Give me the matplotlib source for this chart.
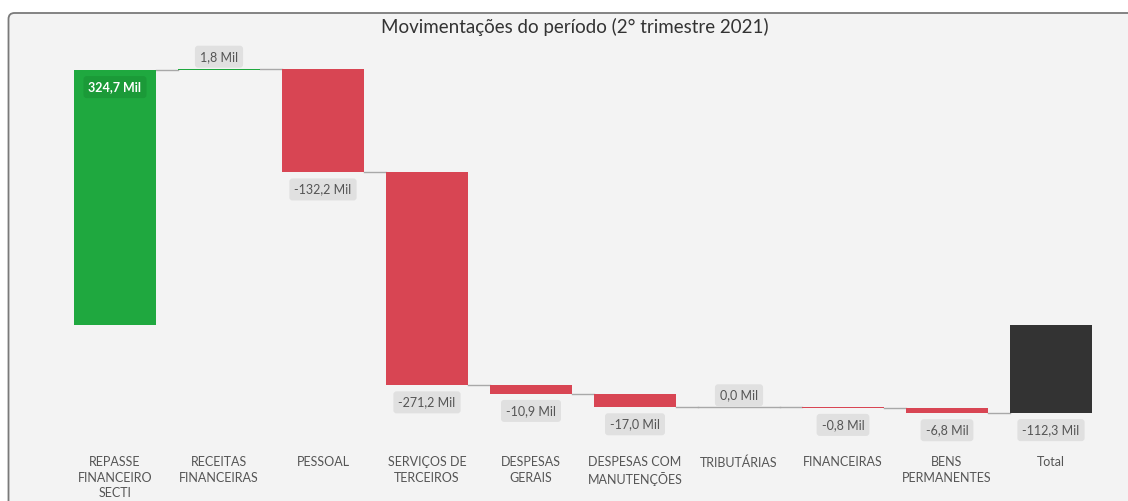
import matplotlib
matplotlib.use("Agg")
import matplotlib.pyplot as plt
from matplotlib.patches import FancyBboxPatch
import numpy as np

categories = ["REPASSE\nFINANCEIRO\nSECTI", "RECEITAS\nFINANCEIRAS", "PESSOAL",
              "SERVIÇOS DE\nTERCEIROS", "DESPESAS\nGERAIS", "DESPESAS COM\nMANUTENÇÕES",
              "TRIBUTÁRIAS", "FINANCEIRAS", "BENS\nPERMANENTES", "Total"]
values = [324.7, 1.8, -132.2, -271.2, -10.9, -17.0, 0.0, -0.8, -6.8]
total = -112.3
title = "Movimentações do período (2° trimestre 2021)"

GREEN = "#1fa83f"
RED = "#d84553"
DARK = "#333333"
TXT = "#555555"
BOXC = "#e0e0e0"

plt.rcParams['font.family'] = ['Lato', 'DejaVu Sans']

W, H, DPI = 1128, 501, 100
fig = plt.figure(figsize=(W / DPI, H / DPI), dpi=DPI, facecolor="white")

# panel background with rounded border
panel = FancyBboxPatch((0.085, -0.5), 11.6, 4.88 + 0.5, boxstyle="round,pad=0,rounding_size=0.06",
                       transform=fig.dpi_scale_trans, fc="#f3f3f3", ec="#7a7a7a", lw=1.3, zorder=-10)
fig.add_artist(panel)

# axes placement in pixels
axL, axR, axT, axB = 11, 1115, 45, 445
ax = fig.add_axes([axL / W, (H - axB) / H, (axR - axL) / W, (axB - axT) / H])
ax.set_zorder(1)
ax.set_facecolor("none")
scale = 0.785  # px per unit
zero_px = 325
ax.set_ylim((zero_px - axB) / scale, (zero_px - axT) / scale)
ax.set_xlim((axL - 115) / 104, (axR - 115) / 104)
for s in ax.spines.values():
    s.set_visible(False)
ax.set_yticks([])

n = len(values)
x = np.arange(n + 1)
bw = 0.79
starts = []
ends = []
run = 0.0
for v in values:
    starts.append(run)
    run += v
    ends.append(run)

def fmt(v):
    return f"{v:.1f}".replace(".", ",") + " Mil"

for i, v in enumerate(values):
    bottom = min(starts[i], ends[i])
    h = abs(v)
    if v > 0:
        color = GREEN
    elif v < 0:
        color = RED
    else:
        color = "#a8a8a8"
    ax.bar(x[i], h, bottom=bottom, width=bw, color=color, zorder=3, linewidth=0)
    if v == 0:
        ax.plot([x[i] - bw / 2, x[i] + bw / 2], [ends[i], ends[i]], color="#a8a8a8", lw=1.0, zorder=2)
    # connector
    nxt_left = x[i + 1] - bw / 2
    ax.plot([x[i] + bw / 2, nxt_left], [ends[i], ends[i]], color="#a8a8a8", lw=1.0, zorder=2)

# total bar
ax.bar(x[n], abs(total), bottom=min(0, total), width=bw, color=DARK, zorder=3, linewidth=0)

box = dict(boxstyle="round,pad=0.4,rounding_size=0.25", fc=BOXC, ec="none")
# value labels
for i, v in enumerate(values):
    if i == 0:
        ax.annotate(fmt(v), (x[i], ends[i]), xytext=(0, -17), textcoords="offset pixels",
                    ha="center", va="center", fontsize=9, color="white", fontweight="bold",
                    bbox=dict(boxstyle="round,pad=0.4,rounding_size=0.25", fc="#1b9a38", ec="none"), zorder=5)
    elif v >= 0:
        top = max(starts[i], ends[i])
        ax.annotate(fmt(v), (x[i], top), xytext=(0, 12), textcoords="offset pixels",
                    ha="center", va="center", fontsize=9, color=TXT, bbox=box, zorder=5)
    else:
        bot = min(starts[i], ends[i])
        ax.annotate(fmt(v), (x[i], bot), xytext=(0, -17), textcoords="offset pixels",
                    ha="center", va="center", fontsize=9, color=TXT, bbox=box, zorder=5)
ax.annotate(fmt(total), (x[n], min(0, total)), xytext=(0, -17), textcoords="offset pixels",
            ha="center", va="center", fontsize=9, color=TXT, bbox=box, zorder=5)

ax.set_xticks(x)
ax.set_xticklabels(categories, fontsize=9, color=TXT, linespacing=1.35)
ax.tick_params(axis="x", length=0, pad=8)

fig.text(575 / W, 1 - 27 / H, title, ha="center", va="center", fontsize=13.5, color="#333333")

fig.savefig("out.png", dpi=DPI, facecolor="white")
